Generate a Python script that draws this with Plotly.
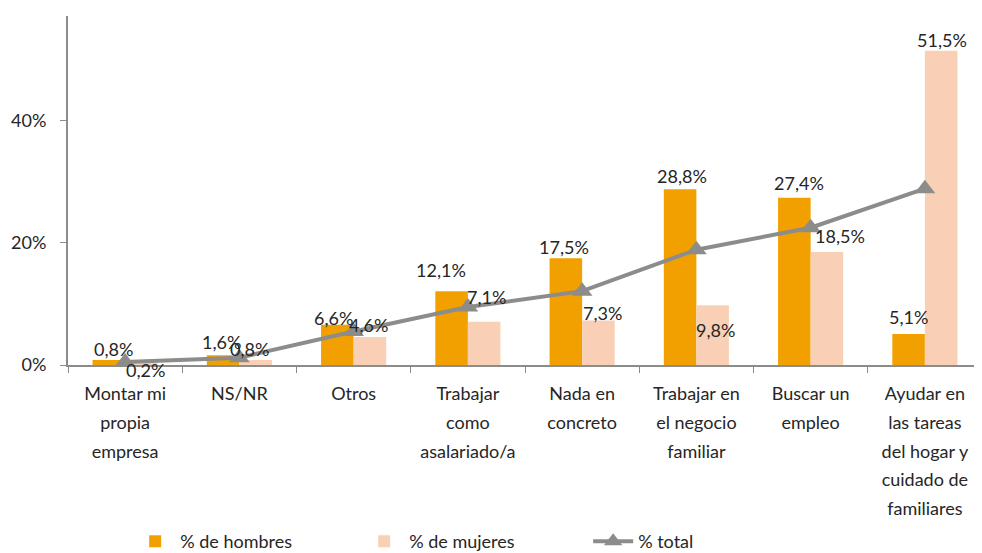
import plotly.graph_objects as go

cat_lines = [
    ["Montar mi", "propia", "empresa"],
    ["NS/NR"],
    ["Otros"],
    ["Trabajar", "como", "asalariado/a"],
    ["Nada en", "concreto"],
    ["Trabajar en", "el negocio", "familiar"],
    ["Buscar un", "empleo"],
    ["Ayudar en", "las tareas", "del hogar y", "cuidado de", "familiares"],
]
categories = ["<br>".join(l) for l in cat_lines]
hombres = [0.8, 1.6, 6.6, 12.1, 17.5, 28.8, 27.4, 5.1]
mujeres = [0.2, 0.8, 4.6, 7.1, 7.3, 9.8, 18.5, 51.5]
total = [0.5, 1.2, 5.5, 9.5, 12.1, 18.9, 22.5, 28.9]

# label offsets (pixels) to mimic the original label placement
h_dx = [4, -2, -4, -11, -2, 2, 4, 0]
h_dy = [11, 13, 7, 21, 11, 13, 15, 17]
m_dx = [4, -6, -1, 3, 4, 3, 13, 1]
m_dy = [-6, 11, 12, 25, 7, -25, 16, 11]

ORANGE = "#F2A000"
PINK = "#F9D0B6"
GRAY = "#8C8C8A"
TXT = "#262626"
FONT = "Lato, Open Sans, sans-serif"

def fmt(v):
    return f"{v:.1f}".replace(".", ",") + "%"

# tick labels: bigger base font for line spacing, smaller visible text
tick_text = ["<br>".join(f"<span style='font-size:18px'>{s}</span>" for s in l) for l in cat_lines]

fig = go.Figure()
fig.add_trace(go.Bar(x=categories, y=hombres, name="% de hombres",
                     marker=dict(color=ORANGE, line=dict(width=0))))
fig.add_trace(go.Bar(x=categories, y=mujeres, name="% de mujeres",
                     marker=dict(color=PINK, line=dict(width=0))))
fig.add_trace(go.Scatter(x=categories, y=total, name="% total", mode="lines+markers",
                         line=dict(color=GRAY, width=4),
                         marker=dict(symbol="triangle-up", size=18, color=GRAY)))

BAR_OFF = 16
annotations = []
for i, c in enumerate(categories):
    annotations.append(dict(x=c, y=hombres[i], text=fmt(hombres[i]), showarrow=False,
                            xref="x", yref="y", xshift=-BAR_OFF + h_dx[i], yshift=h_dy[i],
                            yanchor="middle", font=dict(size=18, color=TXT, family=FONT)))
    annotations.append(dict(x=c, y=mujeres[i], text=fmt(mujeres[i]), showarrow=False,
                            xref="x", yref="y", xshift=BAR_OFF + m_dx[i], yshift=m_dy[i],
                            yanchor="middle", font=dict(size=18, color=TXT, family=FONT)))

fig.update_layout(
    width=974, height=545,
    margin=dict(l=60, r=0, t=8, b=188, autoexpand=False),
    paper_bgcolor="white", plot_bgcolor="white",
    barmode="group", bargap=0.43, bargroupgap=0,
    font=dict(family=FONT, size=18, color=TXT),
    annotations=annotations,
    showlegend=True,
    legend=dict(orientation="h", x=0.068, xanchor="left", y=-0.506, yanchor="middle",
                font=dict(size=18, color=TXT), entrywidth=174, entrywidthmode="pixels",
                itemwidth=40, bgcolor="rgba(0,0,0,0)"),
)
fig.update_xaxes(tickmode="array", tickvals=categories, ticktext=tick_text,
                 showline=True, linecolor=GRAY, linewidth=2, ticks="outside", tickson="boundaries",
                 ticklen=6, tickcolor=GRAY, tickwidth=1, showgrid=False, tickangle=0,
                 automargin=False, ticklabelstandoff=7,
                 tickfont=dict(size=22, color=TXT))
fig.update_yaxes(range=[0, 57.2], tickvals=[0, 20, 40], ticktext=["0%", "20%", "40%"],
                 showline=True, linecolor=GRAY, linewidth=2, ticks="outside", ticklen=6,
                 tickcolor=GRAY, showgrid=False, zeroline=False, automargin=False,
                 ticklabelstandoff=10,
                 tickfont=dict(size=18, color=TXT))

fig.write_html("out.html")
